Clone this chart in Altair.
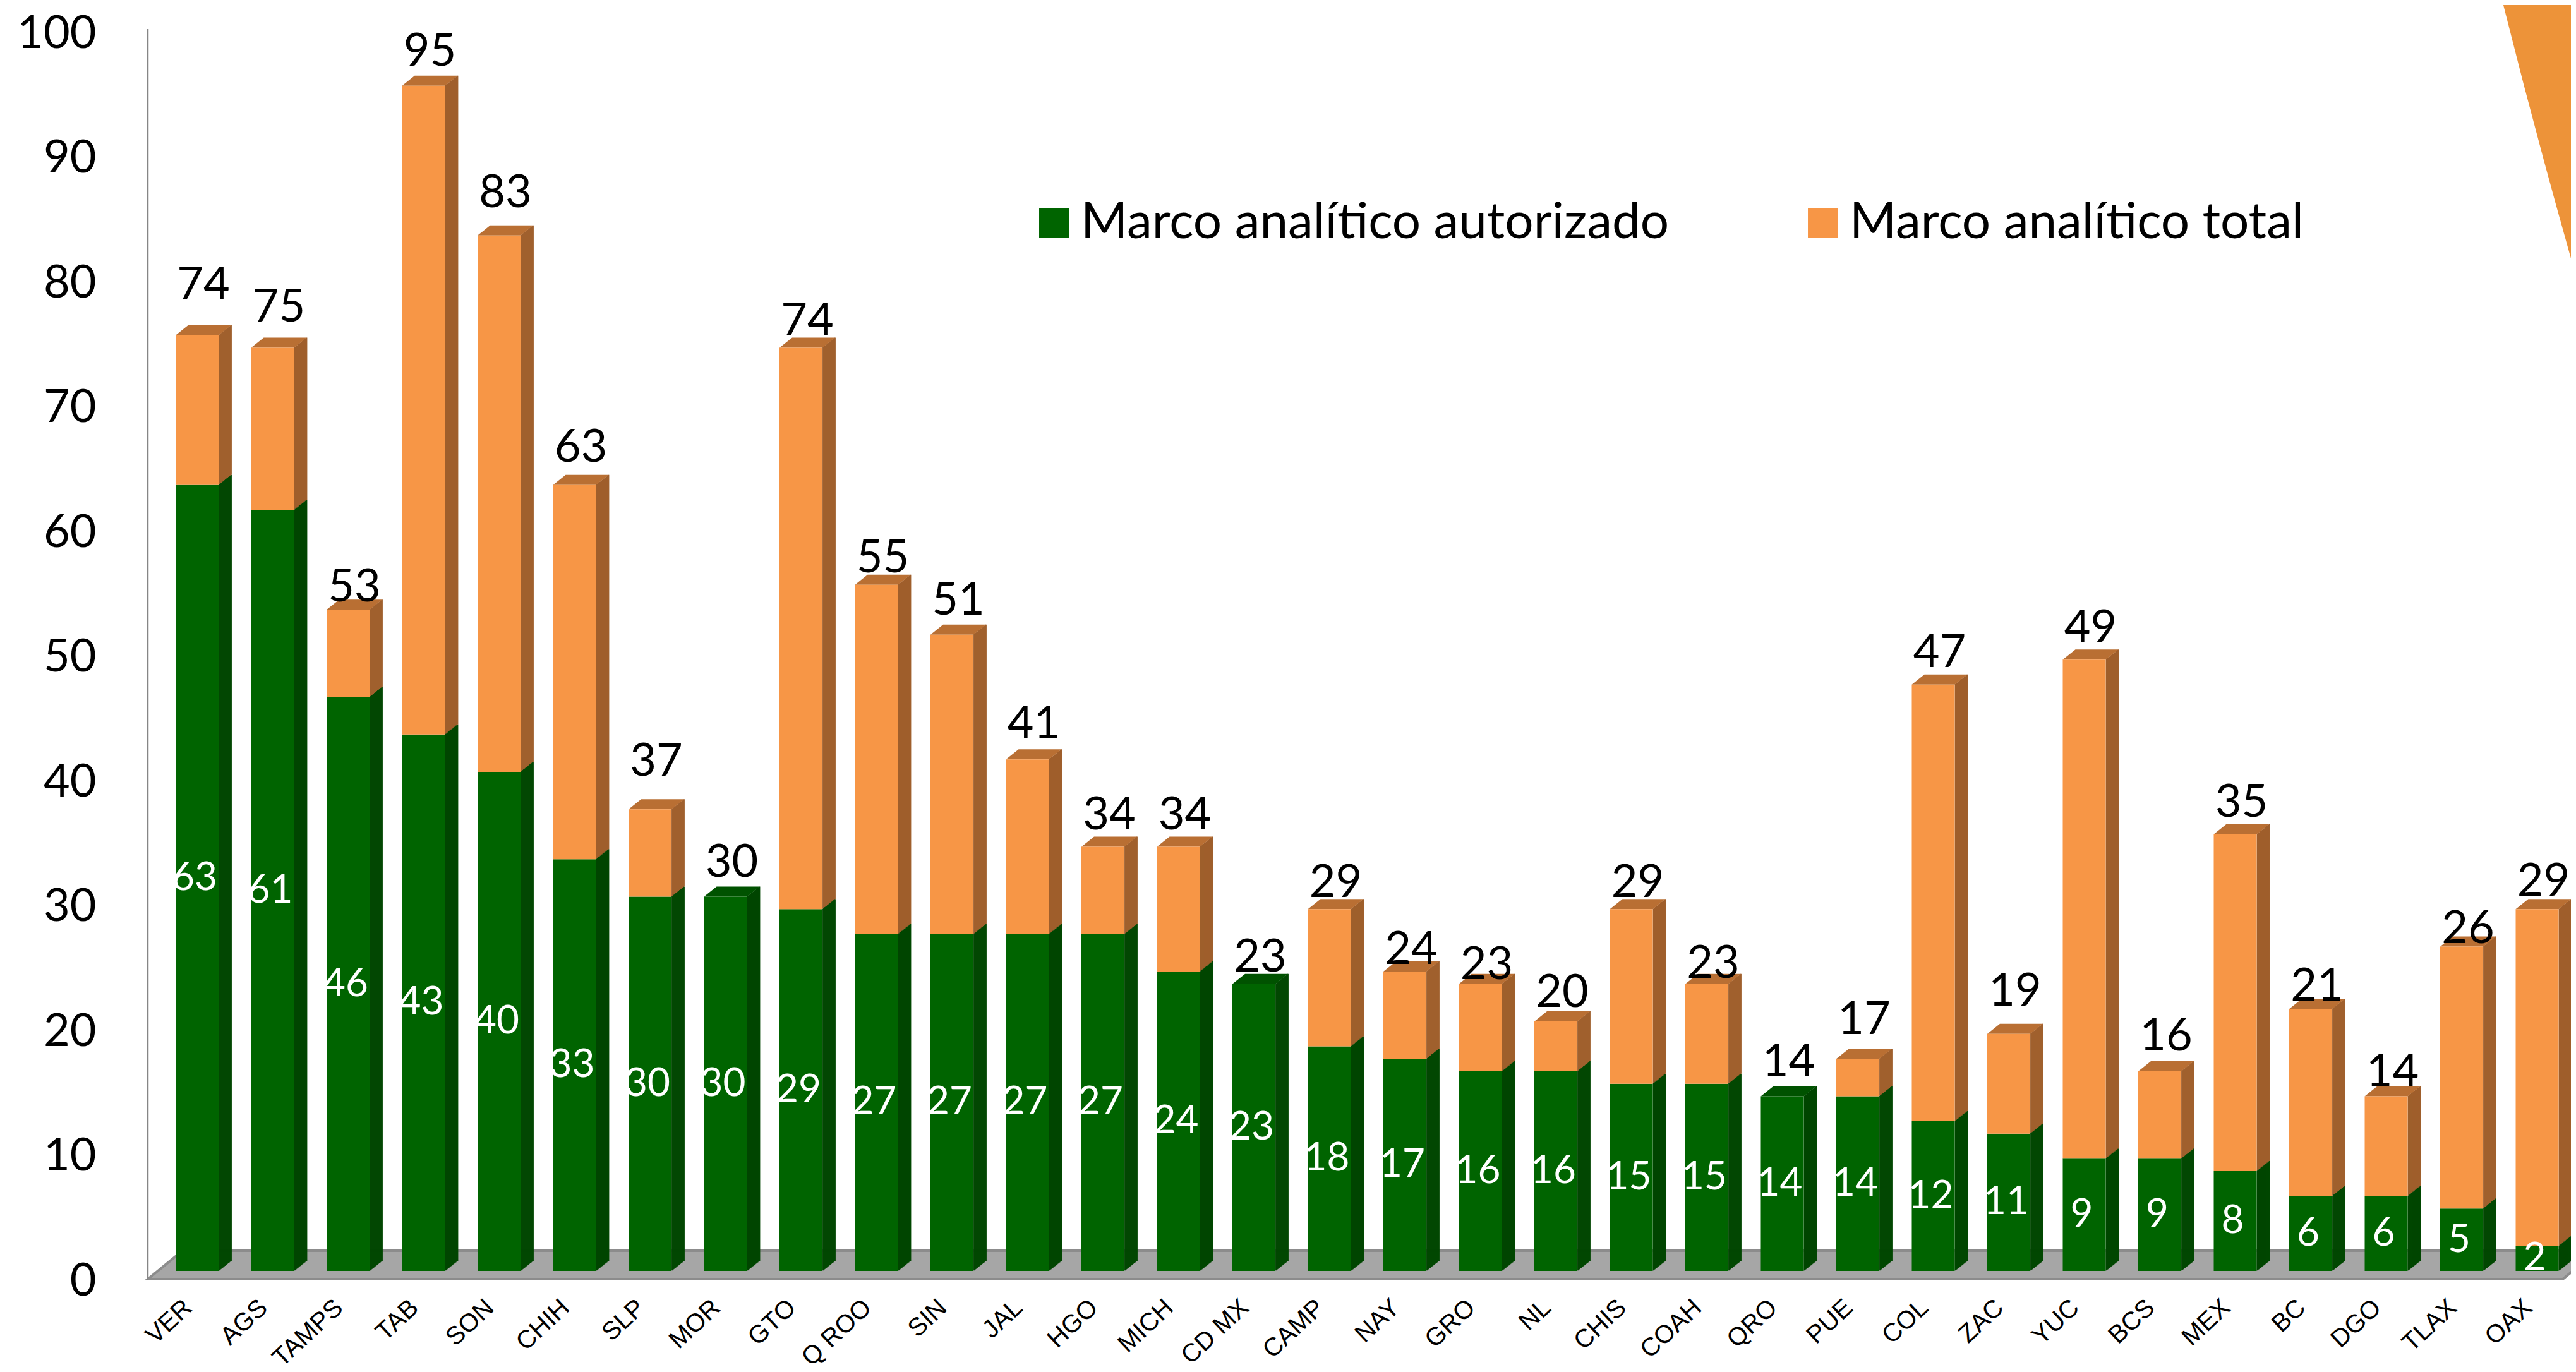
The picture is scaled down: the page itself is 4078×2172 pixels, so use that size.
import altair as alt
import pandas as pd

states = ["VER","AGS","TAMPS","TAB","SON","CHIH","SLP","MOR","GTO","Q ROO","SIN","JAL","HGO","MICH","CD MX","CAMP",
          "NAY","GRO","NL","CHIS","COAH","QRO","PUE","COL","ZAC","YUC","BCS","MEX","BC","DGO","TLAX","OAX"]
autorizado = [63,61,46,43,40,33,30,30,29,27,27,27,27,24,23,18,17,16,16,15,15,14,14,12,11,9,9,8,6,6,5,2]
total_bar = [75,74,53,95,83,63,37,30,74,55,51,41,34,34,23,29,24,23,20,29,23,14,17,47,19,49,16,35,21,14,26,29]
total_label = [74,75,53,95,83,63,37,30,74,55,51,41,34,34,23,29,24,23,20,29,23,14,17,47,19,49,16,35,21,14,26,29]
label_height = [79.0,77.2,54.8,97.7,86.4,66.0,40.8,32.7,76.1,57.1,53.7,43.8,36.5,36.5,25.1,31.1,
                25.7,24.5,22.3,31.1,24.6,16.7,20.1,49.5,22.4,51.5,18.8,37.5,22.8,15.9,27.4,31.2]

S1, S2 = "Marco analítico autorizado", "Marco analítico total"
GREEN, GREEN_SIDE, GREEN_TOP = "#006400", "#004600", "#005200"
ORANGE, ORANGE_SIDE, ORANGE_TOP = "#F79646", "#9F5F2C", "#B96F33"
FONT = "Lato"

rows = []
for s, a, t in zip(states, autorizado, total_bar):
    rows.append(dict(state=s, serie=S1, y0=0, y1=a, side=GREEN_SIDE))
    if t > a:
        rows.append(dict(state=s, serie=S2, y0=a, y1=t, side=ORANGE_SIDE))
segs = pd.DataFrame(rows)
tops = pd.DataFrame(dict(state=states, total=total_bar, label=total_label, lab_y=label_height,
                         green=autorizado, mid=[a / 2 for a in autorizado],
                         bare=[a == t for a, t in zip(autorizado, total_bar)]))
one = pd.DataFrame({"k": [0]})

x = alt.X("state:N", sort=states, title=None,
          scale=alt.Scale(range=[18.25, 3842.25], paddingInner=0.431, paddingOuter=0.2155, round=False),
          axis=alt.Axis(domain=False, ticks=False, grid=False, labelAngle=-43, labelAlign="right",
                        labelBaseline="middle", labelFont="Liberation Sans", labelFontSize=40,
                        labelColor="#000000", labelPadding=52, labelOffset=-14, labelOverlap=False, labelLimit=0))
yscale = alt.Scale(domain=[0, 100], range=[1975, 0], nice=False, zero=False)
yaxis = alt.Axis(domain=False, ticks=False, grid=False, values=list(range(0, 101, 10)), labelFont=FONT,
                 labelFontSize=72, labelColor="#000000", labelPadding=82, labelOffset=16, labelOverlap=False,
                 labelBound=False, title=None)

floor = alt.Chart(one).mark_point(
    shape="M0,0 L38.23,0 L38.78,-0.45 L0.55,-0.45 Z", size=40000, filled=True, fill="#A6A6A6",
    stroke="#8C8C8C", strokeWidth=4, opacity=1
).encode(x=alt.value(0), y=alt.value(1988))

axis_line = alt.Chart(one).mark_rule(color="#868686", strokeWidth=2.5).encode(
    x=alt.value(0), y=alt.value(9), y2=alt.value(1989))

ribbon = alt.Chart(one).mark_point(
    shape="M0,0 L1.4,0 L1.4,4.37 L1.17,4.37 Q0.55,2.2 0,0 Z", size=40000, filled=True, fill="#ED9339",
    strokeWidth=0, opacity=1
).encode(x=alt.value(3727), y=alt.value(-37))

sides = []
for i in range(1, 21):
    sides.append(alt.Chart(segs).mark_rule(strokeWidth=1.8, xOffset=34 + i, yOffset=-0.8 * i, y2Offset=-0.8 * i).encode(
        x=x, y=alt.Y("y1:Q", scale=yscale, axis=yaxis), y2="y0:Q",
        stroke=alt.Stroke("side:N", scale=None, legend=None)))

CAP = "M-0.34,0 L0.34,0 L0.54,-0.16 L-0.14,-0.16 Z"
cap_orange = alt.Chart(tops).transform_filter("!datum.bare").mark_point(
    shape=CAP, size=40000, filled=True, fill=ORANGE_TOP, strokeWidth=0, opacity=1
).encode(x=x, y=alt.Y("total:Q", scale=yscale, axis=yaxis))
cap_green = alt.Chart(tops).transform_filter("datum.bare").mark_point(
    shape=CAP, size=40000, filled=True, fill=GREEN_TOP, strokeWidth=0, opacity=1
).encode(x=x, y=alt.Y("total:Q", scale=yscale, axis=yaxis))

front = alt.Chart(segs).mark_bar(cornerRadius=0).encode(
    x=x, y=alt.Y("y1:Q", scale=yscale, axis=yaxis), y2="y0:Q",
    color=alt.Color("serie:N", scale=alt.Scale(domain=[S1, S2], range=[GREEN, ORANGE]),
                    legend=alt.Legend(orient="none", legendX=1395, legendY=276, direction="horizontal", columns=2,
                                      title=None, labelFont=FONT, labelFontSize=80, labelColor="#000000",
                                      symbolType="square", symbolSize=2300, symbolStrokeWidth=0, symbolOffset=0,
                                      labelOffset=2, columnPadding=203, labelLimit=2000)))

top_labels = alt.Chart(tops).mark_text(font=FONT, fontSize=72, color="#000000", baseline="middle", dx=10).encode(
    x=x, y=alt.Y("lab_y:Q", scale=yscale, axis=yaxis), text="label:Q")
in_labels = alt.Chart(tops).mark_text(font=FONT, fontSize=62, color="#FFFFFF", baseline="middle", dx=-4).encode(
    x=x, y=alt.Y("mid:Q", scale=yscale, axis=yaxis), text="green:Q")

chart = alt.layer(floor, axis_line, *sides, cap_orange, cap_green, front, top_labels, in_labels, ribbon).resolve_scale(
    x="shared", y="shared"
).properties(
    width=3836, height=1975, background="white",
    autosize=alt.AutoSizeParams(type="none"),
    padding={"left": 226, "top": 29, "right": 0, "bottom": 152},
).configure_view(stroke=None)

chart.save("out.html", embed_options={"renderer": "svg", "actions": False})
